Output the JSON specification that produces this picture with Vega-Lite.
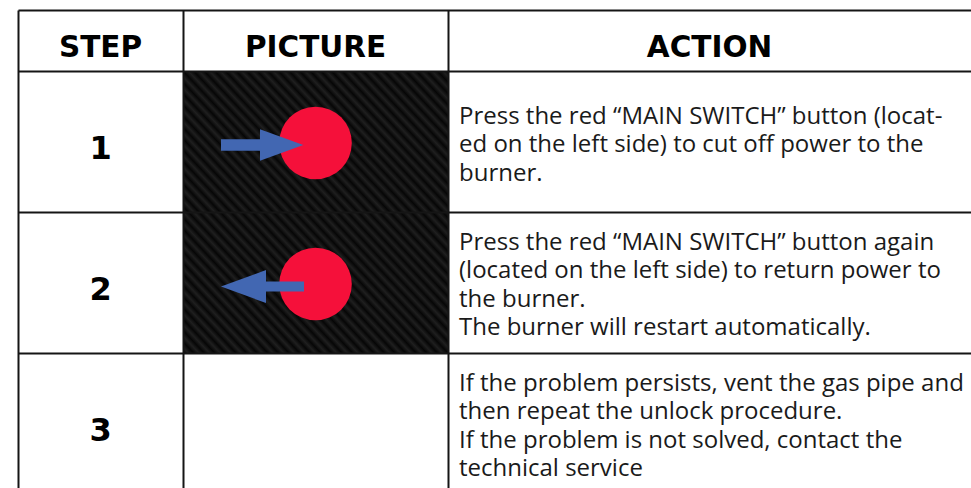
{
  "$schema": "https://vega.github.io/schema/vega-lite/v6.json",
  "width": 953,
  "height": 478,
  "padding": {"left": 18, "top": 10, "right": 0, "bottom": 0},
  "autosize": {"type": "none"},
  "background": "#ffffff",
  "config": {"view": {"stroke": null}},
  "datasets": {
    "columns": [
      {"col": 1, "name": "STEP"},
      {"col": 2, "name": "PICTURE"},
      {"col": 3, "name": "ACTION"}
    ],
    "steps": [
      {"step": 1, "arrow": "right", "action": ["Press the red “MAIN SWITCH” button (locat-", "ed on the left side) to cut off power to the", "burner."]},
      {"step": 2, "arrow": "left", "action": ["Press the red “MAIN SWITCH” button again", "(located on the left side) to return power to", "the burner.", "The burner will restart automatically."]},
      {"step": 3, "arrow": null, "action": ["If the problem persists, vent the gas pipe and", "then repeat the unlock procedure.", "If the problem is not solved, contact the", "technical service"]}
    ],
    "picture": [{"from": 0.5, "to": 2.5}]
  },
  "layer": [
    {
      "data": {"name": "picture"},
      "mark": {
        "type": "rect",
        "fill": {
          "gradient": "linear", "x1": 0, "y1": 1, "x2": 1, "y2": 0,
          "stops": [
            {"offset": 0, "color": "#060606"}, {"offset": 0.01, "color": "#1f1f1f"}, {"offset": 0.02, "color": "#060606"}, {"offset": 0.03, "color": "#1f1f1f"}, {"offset": 0.04, "color": "#060606"}, {"offset": 0.05, "color": "#1f1f1f"}, {"offset": 0.06, "color": "#060606"}, {"offset": 0.07, "color": "#1f1f1f"}, {"offset": 0.08, "color": "#060606"}, {"offset": 0.09, "color": "#1f1f1f"},
            {"offset": 0.10, "color": "#060606"}, {"offset": 0.11, "color": "#1f1f1f"}, {"offset": 0.12, "color": "#060606"}, {"offset": 0.13, "color": "#1f1f1f"}, {"offset": 0.14, "color": "#060606"}, {"offset": 0.15, "color": "#1f1f1f"}, {"offset": 0.16, "color": "#060606"}, {"offset": 0.17, "color": "#1f1f1f"}, {"offset": 0.18, "color": "#060606"}, {"offset": 0.19, "color": "#1f1f1f"},
            {"offset": 0.20, "color": "#060606"}, {"offset": 0.21, "color": "#1f1f1f"}, {"offset": 0.22, "color": "#060606"}, {"offset": 0.23, "color": "#1f1f1f"}, {"offset": 0.24, "color": "#060606"}, {"offset": 0.25, "color": "#1f1f1f"}, {"offset": 0.26, "color": "#060606"}, {"offset": 0.27, "color": "#1f1f1f"}, {"offset": 0.28, "color": "#060606"}, {"offset": 0.29, "color": "#1f1f1f"},
            {"offset": 0.30, "color": "#060606"}, {"offset": 0.31, "color": "#1f1f1f"}, {"offset": 0.32, "color": "#060606"}, {"offset": 0.33, "color": "#1f1f1f"}, {"offset": 0.34, "color": "#060606"}, {"offset": 0.35, "color": "#1f1f1f"}, {"offset": 0.36, "color": "#060606"}, {"offset": 0.37, "color": "#1f1f1f"}, {"offset": 0.38, "color": "#060606"}, {"offset": 0.39, "color": "#1f1f1f"},
            {"offset": 0.40, "color": "#060606"}, {"offset": 0.41, "color": "#1f1f1f"}, {"offset": 0.42, "color": "#060606"}, {"offset": 0.43, "color": "#1f1f1f"}, {"offset": 0.44, "color": "#060606"}, {"offset": 0.45, "color": "#1f1f1f"}, {"offset": 0.46, "color": "#060606"}, {"offset": 0.47, "color": "#1f1f1f"}, {"offset": 0.48, "color": "#060606"}, {"offset": 0.49, "color": "#1f1f1f"},
            {"offset": 0.50, "color": "#060606"}, {"offset": 0.51, "color": "#1f1f1f"}, {"offset": 0.52, "color": "#060606"}, {"offset": 0.53, "color": "#1f1f1f"}, {"offset": 0.54, "color": "#060606"}, {"offset": 0.55, "color": "#1f1f1f"}, {"offset": 0.56, "color": "#060606"}, {"offset": 0.57, "color": "#1f1f1f"}, {"offset": 0.58, "color": "#060606"}, {"offset": 0.59, "color": "#1f1f1f"},
            {"offset": 0.60, "color": "#060606"}, {"offset": 0.61, "color": "#1f1f1f"}, {"offset": 0.62, "color": "#060606"}, {"offset": 0.63, "color": "#1f1f1f"}, {"offset": 0.64, "color": "#060606"}, {"offset": 0.65, "color": "#1f1f1f"}, {"offset": 0.66, "color": "#060606"}, {"offset": 0.67, "color": "#1f1f1f"}, {"offset": 0.68, "color": "#060606"}, {"offset": 0.69, "color": "#1f1f1f"},
            {"offset": 0.70, "color": "#060606"}, {"offset": 0.71, "color": "#1f1f1f"}, {"offset": 0.72, "color": "#060606"}, {"offset": 0.73, "color": "#1f1f1f"}, {"offset": 0.74, "color": "#060606"}, {"offset": 0.75, "color": "#1f1f1f"}, {"offset": 0.76, "color": "#060606"}, {"offset": 0.77, "color": "#1f1f1f"}, {"offset": 0.78, "color": "#060606"}, {"offset": 0.79, "color": "#1f1f1f"},
            {"offset": 0.80, "color": "#060606"}, {"offset": 0.81, "color": "#1f1f1f"}, {"offset": 0.82, "color": "#060606"}, {"offset": 0.83, "color": "#1f1f1f"}, {"offset": 0.84, "color": "#060606"}, {"offset": 0.85, "color": "#1f1f1f"}, {"offset": 0.86, "color": "#060606"}, {"offset": 0.87, "color": "#1f1f1f"}, {"offset": 0.88, "color": "#060606"}, {"offset": 0.89, "color": "#1f1f1f"},
            {"offset": 0.90, "color": "#060606"}, {"offset": 0.91, "color": "#1f1f1f"}, {"offset": 0.92, "color": "#060606"}, {"offset": 0.93, "color": "#1f1f1f"}, {"offset": 0.94, "color": "#060606"}, {"offset": 0.95, "color": "#1f1f1f"}, {"offset": 0.96, "color": "#060606"}, {"offset": 0.97, "color": "#1f1f1f"}, {"offset": 0.98, "color": "#060606"}, {"offset": 0.99, "color": "#1f1f1f"},
            {"offset": 1, "color": "#060606"}
          ]
        }
      },
      "encoding": {
        "x": {
          "datum": 1.5, "type": "quantitative",
          "scale": {"domain": [0.5, 1.5, 2.5, 3.5], "range": [0, 165, 430, 953], "nice": false, "zero": false},
          "axis": {"values": [0.5, 1.5, 2.5], "grid": true, "gridColor": "#151515", "gridWidth": 2, "gridOpacity": 1, "labels": false, "ticks": false, "domain": false, "title": null, "zindex": 1}
        },
        "x2": {"datum": 2.5},
        "y": {
          "field": "from", "type": "quantitative",
          "scale": {"domain": [-0.5, 0.5, 3.457], "range": [0, 61, 478], "nice": false, "zero": false},
          "axis": {"values": [-0.5, 0.5, 1.5, 2.5], "grid": true, "gridColor": "#151515", "gridWidth": 2, "gridOpacity": 1, "labels": false, "ticks": false, "domain": false, "title": null, "zindex": 1}
        },
        "y2": {"field": "to"}
      }
    },
    {
      "data": {"name": "steps"},
      "transform": [{"filter": "datum.arrow != null"}],
      "mark": {"type": "point", "shape": "circle", "filled": true, "size": 5270, "color": "#F5103A", "opacity": 1, "yOffset": 1.5},
      "encoding": {
        "x": {"datum": 2, "type": "quantitative"},
        "y": {"field": "step", "type": "quantitative", "title": null}
      }
    },
    {
      "data": {"name": "steps"},
      "transform": [{"filter": "datum.arrow != null"}],
      "mark": {"type": "point", "filled": true, "size": 6724, "color": "#4267B2", "opacity": 1},
      "encoding": {
        "x": {"datum": 2, "type": "quantitative"},
        "y": {"field": "step", "type": "quantitative", "title": null},
        "shape": {
          "field": "arrow", "type": "nominal", "legend": null,
          "scale": {
            "domain": ["right", "left"],
            "range": [
              "M-2.305,-0.056L-1.354,-0.056L-1.354,-0.298L-0.298,0.085L-1.354,0.468L-1.354,0.226L-2.305,0.226Z",
              "M-2.305,0.098L-1.207,-0.304L-1.207,-0.024L-0.280,-0.024L-0.280,0.220L-1.207,0.220L-1.207,0.500Z"
            ]
          }
        }
      }
    },
    {
      "data": {"name": "columns"},
      "mark": {"type": "text", "font": "DejaVu Sans", "fontWeight": "bold", "fontSize": 29.5, "color": "#000000", "align": "center", "baseline": "middle", "dy": 7.5},
      "encoding": {
        "x": {"field": "col", "type": "quantitative", "title": null},
        "y": {"datum": 0, "type": "quantitative"},
        "text": {"field": "name"}
      }
    },
    {
      "data": {"name": "steps"},
      "mark": {"type": "text", "font": "DejaVu Sans", "fontWeight": "bold", "fontSize": 32, "color": "#000000", "align": "center", "baseline": "middle", "dy": 7.5},
      "encoding": {
        "x": {"datum": 1, "type": "quantitative"},
        "y": {"field": "step", "type": "quantitative", "title": null},
        "text": {"field": "step"}
      }
    },
    {
      "data": {"name": "steps"},
      "transform": [{"filter": "length(datum.action) == 3"}],
      "mark": {"type": "text", "font": "Open Sans", "fontSize": 24, "lineHeight": 28.5, "color": "#1a1a1a", "align": "left", "baseline": "middle", "dx": 11, "dy": -25},
      "encoding": {
        "x": {"datum": 2.5, "type": "quantitative"},
        "y": {"field": "step", "type": "quantitative", "title": null},
        "text": {"field": "action"}
      }
    },
    {
      "data": {"name": "steps"},
      "transform": [{"filter": "length(datum.action) == 4"}],
      "mark": {"type": "text", "font": "Open Sans", "fontSize": 24, "lineHeight": 28.5, "color": "#1a1a1a", "align": "left", "baseline": "middle", "dx": 11, "dy": -40},
      "encoding": {
        "x": {"datum": 2.5, "type": "quantitative"},
        "y": {"field": "step", "type": "quantitative", "title": null},
        "text": {"field": "action"}
      }
    }
  ]
}
